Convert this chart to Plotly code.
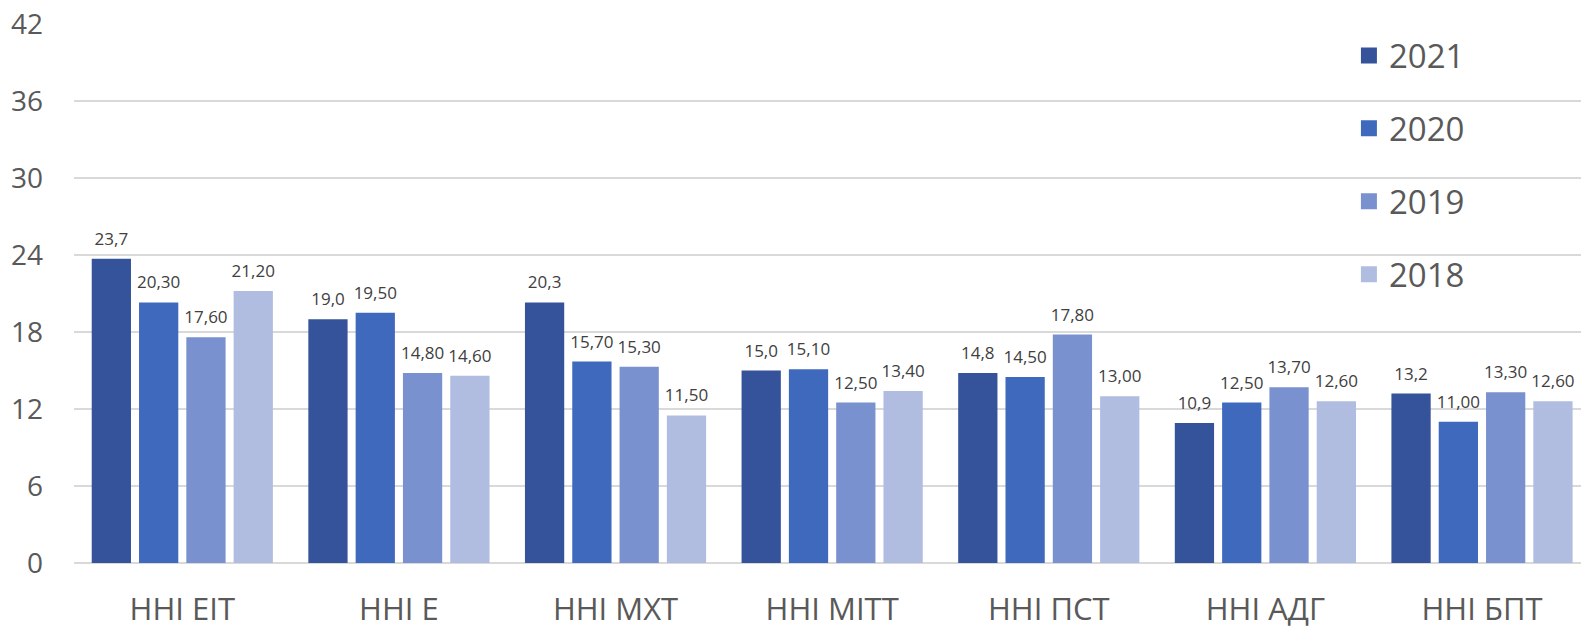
import plotly.graph_objects as go

categories = ["ННІ ЕІТ", "ННІ Е", "ННІ МХТ", "ННІ МІТТ", "ННІ ПСТ", "ННІ АДГ", "ННІ БПТ"]
years = ["2021", "2020", "2019", "2018"]
v2021 = [23.7, 19.0, 20.3, 15.0, 14.8, 10.9, 13.2]
v2020 = [20.30, 19.50, 15.70, 15.10, 14.50, 12.50, 11.00]
v2019 = [17.60, 14.80, 15.30, 12.50, 17.80, 13.70, 13.30]
v2018 = [21.20, 14.60, 11.50, 13.40, 13.00, 12.60, 12.60]
decimals = [1, 2, 2, 2]
series = [v2021, v2020, v2019, v2018]
colors = ["#34539a", "#3f69bd", "#7a91d0", "#b1bde0"]

BARGAP = 0.1265

fig = go.Figure()
for i, (yr, vals) in enumerate(zip(years, series)):
    fig.add_trace(go.Bar(
        x=categories, y=vals, name=yr, legendgroup=yr, showlegend=False,
        offsetgroup=yr,
        marker=dict(color=colors[i], line=dict(width=0)),
        hoverinfo="skip",
    ))
for i, (yr, vals) in enumerate(zip(years, series)):
    fmt = "{:." + str(decimals[i]) + "f}"
    texts = [fmt.format(v).replace(".", ",") for v in vals]
    fig.add_trace(go.Scatter(
        x=categories, y=vals, mode="markers+text", showlegend=False,
        offsetgroup=yr,
        marker=dict(size=14, color="rgba(0,0,0,0)"),
        text=texts, textposition="top center",
        textfont=dict(size=17, color="#404040", family="Open Sans"),
        cliponaxis=False, hoverinfo="skip",
    ))
# legend entries (square swatches)
for i, yr in enumerate(years):
    fig.add_trace(go.Scatter(
        x=[None], y=[None], mode="markers", name=yr, legendgroup=yr,
        offsetgroup=yr,
        marker=dict(symbol="square", size=22, color=colors[i]),
        hoverinfo="skip",
    ))

fig.update_layout(
    width=1581, height=630,
    margin=dict(l=74, r=0, t=24, b=67, autoexpand=False),
    paper_bgcolor="white", plot_bgcolor="white",
    barmode="group", bargap=BARGAP, bargroupgap=0.17,
    scattermode="group", scattergap=BARGAP,
    font=dict(family="Open Sans", color="#595959"),
    showlegend=True,
    legend=dict(
        x=0.846, y=0.9935, xanchor="left", yanchor="top",
        font=dict(size=33, color="#595959"),
        bgcolor="rgba(0,0,0,0)", tracegroupgap=27,
        itemwidth=30,
    ),
)
fig.update_yaxes(
    range=[0, 42], dtick=6, showgrid=True, gridcolor="#d9d9d9", gridwidth=1.5,
    zeroline=True, zerolinecolor="#d9d9d9", zerolinewidth=1.5,
    tickfont=dict(size=28, color="#595959"), ticklabelstandoff=30,
    showline=False, automargin=False,
)
fig.update_xaxes(
    range=[-0.5, 6.457],
    tickfont=dict(size=31, color="#595959"), ticklabelstandoff=25,
    showline=False, showgrid=False, automargin=False,
)

fig.write_html(
    "out.html",
    config={"displayModeBar": False},
    post_script="document.body.style.margin='0';document.body.style.overflow='hidden';",
)
